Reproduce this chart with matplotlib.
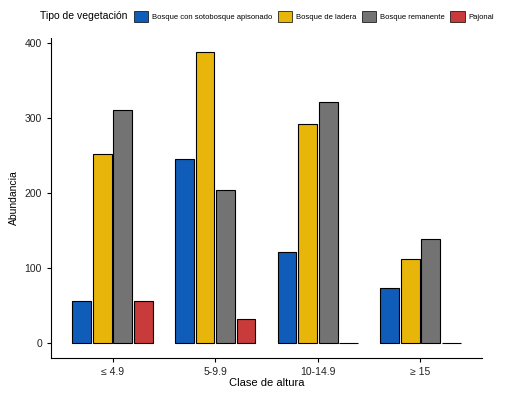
import matplotlib.pyplot as plt
import numpy as np
from matplotlib.patches import Patch
from matplotlib.offsetbox import HPacker

# 데이터
clases = ["≤ 4.9", "5-9.9", "10-14.9", "≥ 15"]
tipos = ["Bosque con sotobosque apisonado", "Bosque de ladera", "Bosque remanente", "Pajonal"]
bosque_sotobosque = [56, 245, 121, 73]
bosque_ladera = [252, 387, 292, 112]
bosque_remanente = [310, 204, 321, 139]
pajonal = [56, 32, 0, 0]
colores = ["#0F5DB8", "#E8B50A", "#737373", "#C93A3A"]

plt.rcParams["font.family"] = ["Liberation Sans", "DejaVu Sans"]

fig = plt.figure(figsize=(5.18, 3.95), dpi=100)
ax = fig.add_axes([0.0985, 0.094, 0.832, 0.81])

series = [bosque_sotobosque, bosque_ladera, bosque_remanente, pajonal]
x = np.arange(1, len(clases) + 1)
w = 0.2
for i, (vals, col) in enumerate(zip(series, colores)):
    ax.bar(x + (i - 1.5) * w, vals, width=w * 0.92, color=col,
           edgecolor="black", linewidth=0.8)

ax.set_xlim(0.4, 4.6)
ax.set_ylim(-19.35, 406.35)
ax.set_xticks(x)
ax.set_xticklabels(clases)
ax.set_yticks([0, 100, 200, 300, 400])
ax.tick_params(labelsize=7.5, labelcolor="#222222", color="black", length=3)
ax.spines[["top", "right"]].set_visible(False)
ax.set_xlabel("Clase de altura", fontsize=8, labelpad=1)
ax.set_ylabel("Abundancia", fontsize=7.5, labelpad=4)

handles = [Patch(facecolor=c, edgecolor="black", linewidth=0.5) for c in colores]
leg = fig.legend(handles, tipos, loc="upper center", bbox_to_anchor=(0.515, 0.99),
                 ncol=4, frameon=False, fontsize=5.5, title="Tipo de vegetación",
                 title_fontsize=7.5, handlelength=1.9, handleheight=1.9,
                 handletextpad=0.45, columnspacing=0.75)
# 제목을 왼쪽에 배치
title_box = leg._legend_title_box
handle_box = leg._legend_handle_box
leg._legend_box._children = [HPacker(children=[title_box, handle_box], align="center", pad=0, sep=5)]

fig.savefig("out.png", dpi=100)
